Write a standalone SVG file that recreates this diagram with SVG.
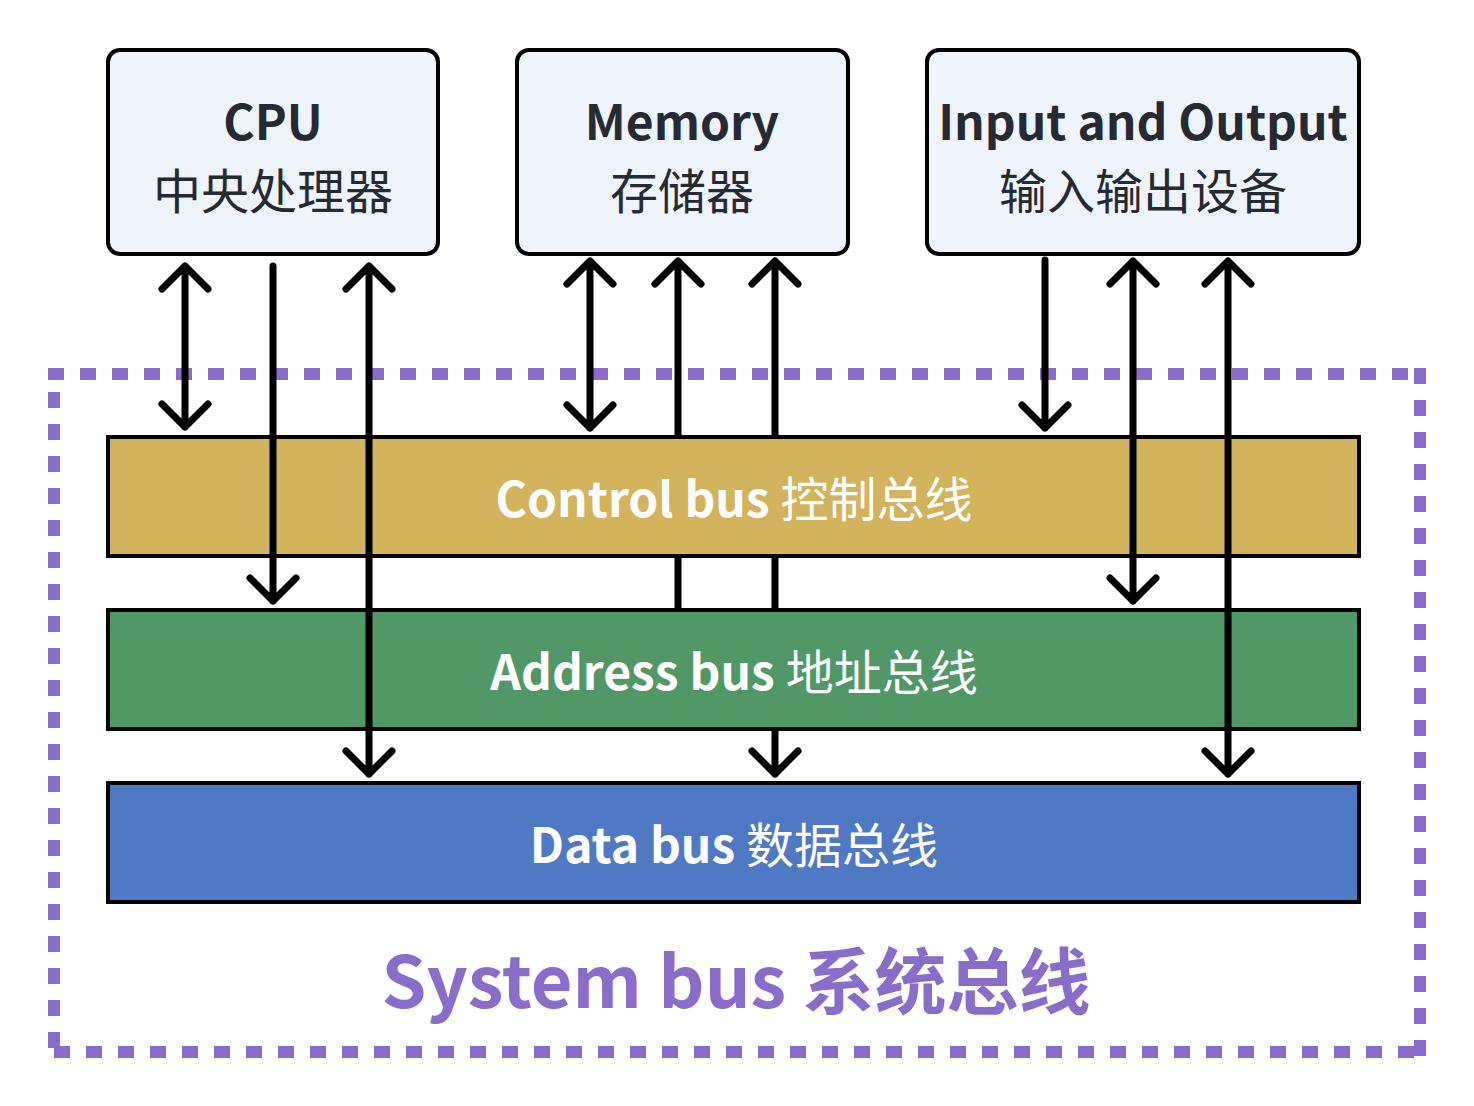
<svg xmlns="http://www.w3.org/2000/svg" width="1474" height="1106" viewBox="0 0 1474 1106">
<style>
.box{fill:#EEF3FC;stroke:#000;stroke-width:4}
.bar{stroke:#000;stroke-width:4}
.t{font-family:"Noto Sans CJK SC","Noto Sans",sans-serif;text-anchor:middle}
.title{font-size:48px;font-weight:700;fill:#262A33}
.sub{font-size:48px;font-weight:400;fill:#262A33}
.bus{font-size:48px;fill:#fff}
.dash{stroke:#8A6CCB;stroke-width:12;stroke-dasharray:16 16;fill:none}
.ln{stroke:#000;stroke-width:7;stroke-linecap:round;stroke-linejoin:round;fill:none}
</style>
<rect width="1474" height="1106" fill="#fff"/>
<g id="system-bus">
<line class="dash" x1="48" y1="374" x2="1426" y2="374"/>
<line class="dash" x1="1420" y1="368" x2="1420" y2="1058"/>
<line class="dash" x1="54" y1="392" x2="54" y2="1058"/>
<line class="dash" x1="54" y1="1052" x2="1420" y2="1052"/>
<text class="t" x="736" y="1008" style="font-size:72px;font-weight:700;fill:#8A6CCB">System bus 系统总线</text>
</g>
<g id="connectors-hidden">
<path class="ln" d="M678,261 V607 M655,284 L678,261 L701,284"/>
<path class="ln" d="M775,261 V774 M752,284 L775,261 L798,284 M752,751 L775,774 L798,751"/>
</g>
<g id="cpu">
<rect class="box" x="108" y="50" width="330" height="204" rx="12"/>
<text class="t title" x="273" y="140">CPU</text>
<text class="t sub" x="273" y="209">中央处理器</text>
</g>
<g id="memory">
<rect class="box" x="517" y="50" width="331" height="204" rx="12"/>
<text class="t title" x="682" y="140">Memory</text>
<text class="t sub" x="682" y="209">存储器</text>
</g>
<g id="io">
<rect class="box" x="927" y="50" width="432" height="204" rx="12"/>
<text class="t title" x="1143" y="140">Input and Output</text>
<text class="t sub" x="1143" y="209">输入输出设备</text>
</g>
<g id="control-bus">
<rect class="bar" x="108" y="437" width="1251" height="119" fill="#D3B35C"/>
<text class="t bus" x="734" y="517"><tspan font-weight="700">Control bus </tspan><tspan font-weight="400">控制总线</tspan></text>
</g>
<g id="address-bus">
<rect class="bar" x="108" y="610" width="1251" height="119" fill="#519866"/>
<text class="t bus" x="734" y="690"><tspan font-weight="700">Address bus </tspan><tspan font-weight="400">地址总线</tspan></text>
</g>
<g id="data-bus">
<rect class="bar" x="108" y="783" width="1251" height="119" fill="#5079C5"/>
<text class="t bus" x="734" y="863"><tspan font-weight="700">Data bus </tspan><tspan font-weight="400">数据总线</tspan></text>
</g>
<g id="connectors">
<path class="ln" d="M185,266 V427 M162,289 L185,266 L208,289 M162,404 L185,427 L208,404"/>
<path class="ln" d="M273,266 V601 M250,578 L273,601 L296,578"/>
<path class="ln" d="M369,266 V774 M346,289 L369,266 L392,289 M346,751 L369,774 L392,751"/>
<path class="ln" d="M590,261 V428 M567,284 L590,261 L613,284 M567,405 L590,428 L613,405"/>
<path class="ln" d="M1045,260 V428 M1022,405 L1045,428 L1068,405"/>
<path class="ln" d="M1133,261 V601 M1110,284 L1133,261 L1156,284 M1110,578 L1133,601 L1156,578"/>
<path class="ln" d="M1228,261 V774 M1205,284 L1228,261 L1251,284 M1205,751 L1228,774 L1251,751"/>
</g>
</svg>
